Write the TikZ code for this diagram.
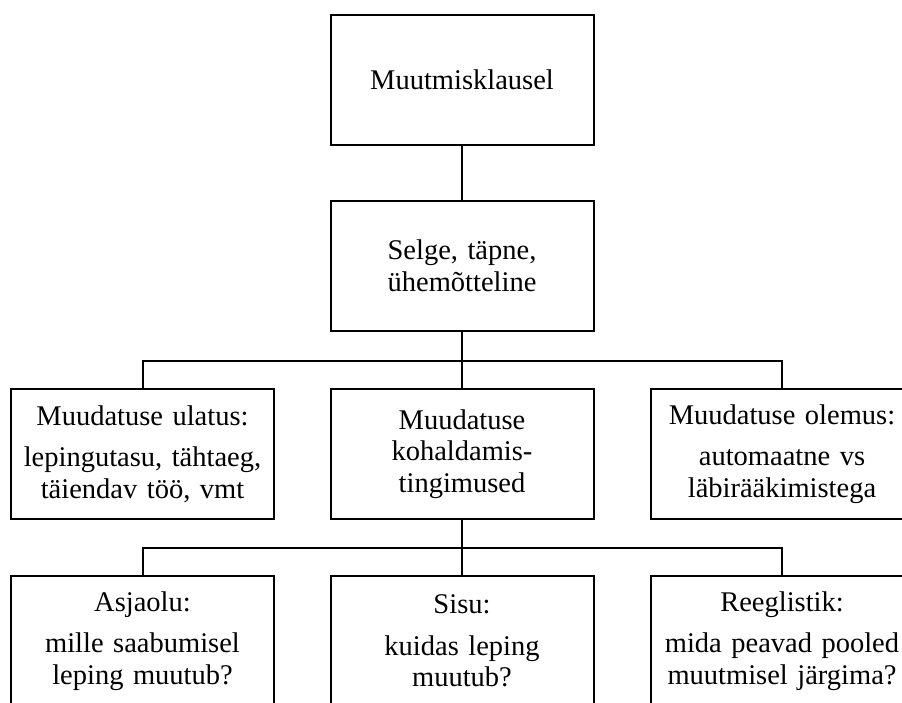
\documentclass[tikz,border=0pt]{standalone}
\usepackage{fontspec}
\setmainfont{Liberation Serif}
\usetikzlibrary{positioning}

\begin{document}
\begin{tikzpicture}[
    x=1pt, y=1pt,
    box/.style={draw=black, line width=2pt, minimum width=263pt, minimum height=130pt, text width=258pt, align=center, inner sep=0pt, font=\fontsize{28.5}{31.5}\selectfont},
    link/.style={draw=black, line width=2pt}
]
\useasboundingbox (0,0) rectangle (902,-702);
\node[box] (klausel) at (462,-79.5) {Muutmisklausel};
\node[box] (selge) at (462,-265.5) {Selge, täpne,\\ühemõtteline};
\node[box] (ulatus) at (142.5,-454) {Muudatuse ulatus:\\[10pt]lepingutasu, tähtaeg,\\täiendav töö, vmt};
\node[box] (kohald) at (462,-454) {Muudatuse\\kohaldamis-\\tingimused};
\node[box] (olemus) at (782,-454) {Muudatuse olemus:\\[10pt]automaatne vs\\läbirääkimistega};
\node[box] (asjaolu) at (142.5,-641) {Asjaolu:\\[10pt]mille saabumisel\\leping muutub?};
\node[box] (sisu) at (462,-641) {Sisu:\\[10pt]kuidas leping\\muutub?};
\node[box] (reeglid) at (782,-641) {Reeglistik:\\[10pt]mida peavad pooled\\muutmisel järgima?};
\coordinate (bus1) at (462,-361);
\coordinate (bus2) at (462,-548);
\draw[link] (klausel) -- (selge);
\draw[link] (selge) -- (bus1);
\draw[link] (ulatus.north) |- (bus1) -| (olemus.north);
\draw[link] (bus1) -- (kohald);
\draw[link] (kohald) -- (bus2);
\draw[link] (asjaolu.north) |- (bus2) -| (reeglid.north);
\draw[link] (bus2) -- (sisu);
\end{tikzpicture}
\end{document}
